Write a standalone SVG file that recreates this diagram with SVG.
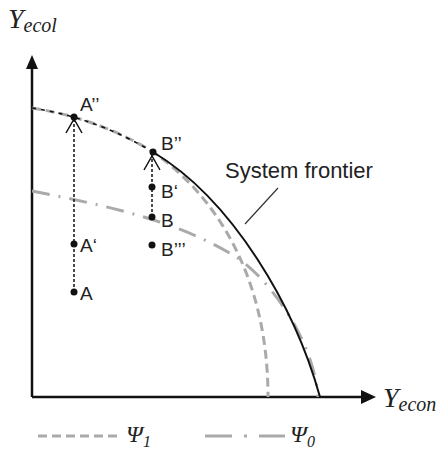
<svg xmlns="http://www.w3.org/2000/svg" width="448" height="452" viewBox="0 0 448 452">
<style>
.lbl{font-family:"Liberation Sans","DejaVu Sans",sans-serif;font-size:19px;fill:#222}
.big{font-size:22px}
.math{font-family:"Liberation Serif","DejaVu Serif",serif;font-style:italic;fill:#222}
.psi1{fill:none;stroke:#aaa;stroke-width:3;stroke-dasharray:9 5}
.psi0{fill:none;stroke:#aaa;stroke-width:3;stroke-dasharray:18 9 2 9}
.front{fill:none;stroke:#111;stroke-width:2}
.dot{fill:#111}
.vline{stroke:#111;stroke-width:1.5;stroke-dasharray:3 2;fill:none}
.vhead{stroke:#111;stroke-width:1.5;fill:none}
.axis{stroke:#111;stroke-width:2.5}
</style>
<g id="axes">
<line class="axis" x1="32" y1="397" x2="32" y2="68"/>
<path d="M32,55 L26,69 L38,69 Z" fill="#111"/>
<line class="axis" x1="32" y1="397" x2="362" y2="397"/>
<path d="M376,397 L361,390 L361,404 Z" fill="#111"/>
<text class="math" x="8" y="28" font-size="28">Y<tspan font-size="20" dy="4">ecol</tspan></text>
<text class="math" x="383" y="407" font-size="28">Y<tspan font-size="20" dy="4">econ</tspan></text>
</g>
<g id="connectors">
<path id="psi0-curve" class="psi0" d="M32,191 C102,205 173,219 233,255 C268,276 314,340 318,397"/>
<path id="psi1-curve" class="psi1" d="M32,108 C72,114 113,128 150,150 C210,190 268,270 268,397"/>
<path id="frontier-top" d="M32,108 C72,114 113,128 153,152" fill="none" stroke="#111" stroke-width="1.6" stroke-dasharray="4 5"/>
<path id="frontier-main" class="front" d="M153,152 C233,200 295,307 320,397"/>
<line x1="245" y1="224" x2="278" y2="188" stroke="#333" stroke-width="1.2"/>
<line class="vline" x1="74" y1="292" x2="74" y2="120"/>
<path class="vhead" d="M66,133 L74,119 L82,133"/>
<line class="vline" x1="152" y1="217" x2="152" y2="155"/>
<path class="vhead" d="M144,170 L152,156 L160,170"/>
</g>
<g id="node-A"><circle class="dot" cx="74" cy="292" r="3.5"/><text class="lbl" x="80" y="300">A</text></g>
<g id="node-A1"><circle class="dot" cx="74" cy="244" r="3.5"/><text class="lbl" x="80" y="252">A‘</text></g>
<g id="node-A2"><circle class="dot" cx="74" cy="117" r="3.5"/><text class="lbl" x="80" y="111">A’’</text></g>
<g id="node-B2"><circle class="dot" cx="153" cy="152" r="3.5"/><text class="lbl" x="161" y="150">B’’</text></g>
<g id="node-B1"><circle class="dot" cx="152" cy="187" r="3.5"/><text class="lbl" x="161" y="198">B‘</text></g>
<g id="node-B"><circle class="dot" cx="152" cy="217" r="3.5"/><text class="lbl" x="161" y="227">B</text></g>
<g id="node-B3"><circle class="dot" cx="152" cy="245" r="3.5"/><text class="lbl" x="161" y="256">B’’’</text></g>
<g id="label-frontier"><text class="lbl big" x="225" y="178">System frontier</text></g>
<g id="legend">
<line x1="38" y1="436" x2="118" y2="436" stroke="#aaa" stroke-width="3" stroke-dasharray="9 5"/>
<text class="math" x="126" y="442" font-size="24">Ψ<tspan font-size="16" dy="5">1</tspan></text>
<line x1="205" y1="436" x2="232" y2="436" stroke="#aaa" stroke-width="3"/>
<line x1="244" y1="436" x2="247" y2="436" stroke="#aaa" stroke-width="3"/>
<line x1="259" y1="436" x2="285" y2="436" stroke="#aaa" stroke-width="3"/>
<text class="math" x="290" y="442" font-size="24">Ψ<tspan font-size="16" dy="5">0</tspan></text>
</g>
</svg>
